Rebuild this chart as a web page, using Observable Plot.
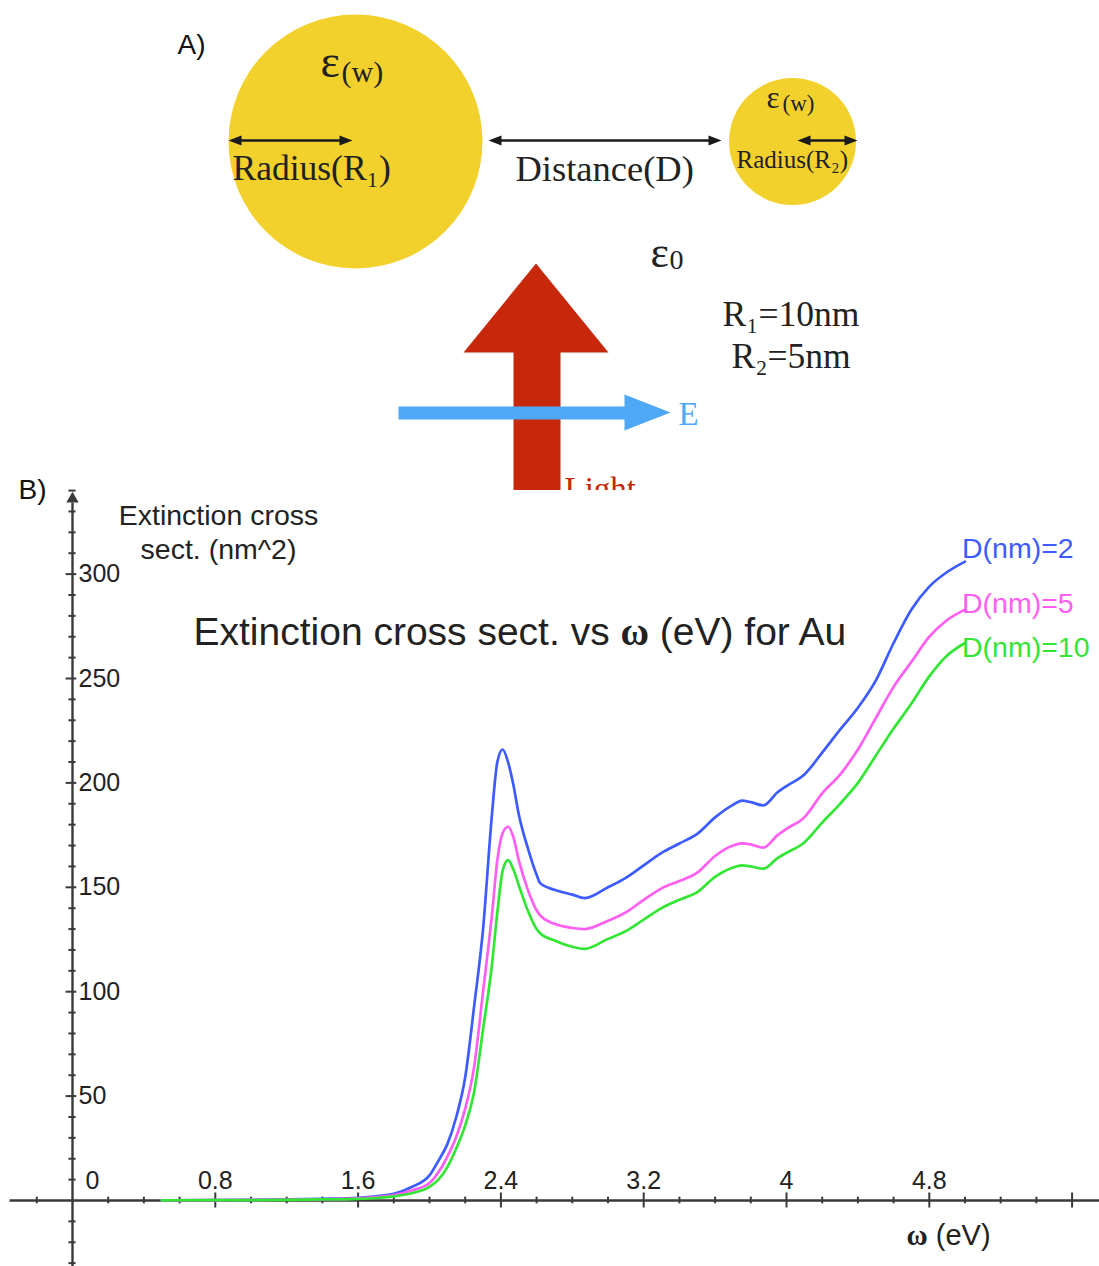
<!DOCTYPE html>
<html>
<head>
<meta charset="utf-8">
<script src="https://cdn.jsdelivr.net/npm/d3@7"></script>
<script src="https://cdn.jsdelivr.net/npm/@observablehq/plot@0.6"></script>
<style>
  body { margin: 0; background: #fff; }
  #figure { width: 1099px; }
  #figure svg { display: block; }
</style>
</head>
<body>
<div id="figure"></div>
<script>
// ================= DATA (panel B) =================
const energy = [0.5,0.8,1.0,1.2,1.4,1.6,1.7,1.8,1.9,2.0,2.05,2.1,2.15,2.2,2.25,2.3,2.35,2.38,2.41,2.44,2.47,2.5,2.55,2.6,2.62,2.7,2.8,2.87,3.0,3.1,3.2,3.3,3.4,3.5,3.6,3.7,3.75,3.8,3.87,3.95,4.0,4.1,4.2,4.3,4.4,4.5,4.6,4.7,4.8,4.9,5.0];
const sigmaD2  = [0.1,0.2,0.3,0.5,0.8,1.3,2.0,3.2,6.5,12,19,27,40,59,93,130,185,210,216,210,199,185,169,156,152,148.8,146.5,144.8,150,154.5,160.5,166.5,171,175.6,183.5,189.5,191.5,190.8,189.2,195.5,198.5,204,214.5,225.5,236,249,267,283,294,301,306];
const sigmaD5  = [0.1,0.2,0.3,0.4,0.6,1.0,1.6,2.6,4.8,8.4,13.5,21,30.5,44,64,100,137,163,176,179,174,163,149,139,136.5,132.5,130.5,130,134,138,144,149.5,153,157,165,170,171,170.5,169,175,178,183.5,195,204,216,231,246,258,270,278,283];
const sigmaD10 = [0.1,0.15,0.2,0.3,0.5,0.8,1.2,2.0,3.5,6.5,10,16,25,36,52,82,113,138,158,163,158.5,151,139,130,128,124.5,121.5,120.5,125.3,129,134.5,140,144,147.7,155,159.5,160.5,160,158.9,164,166.5,171.5,181,190,200,213,226,238,251,261,267];
const seriesNames = ["D(nm)=2", "D(nm)=5", "D(nm)=10"];
const seriesColors = ["#3d5cff", "#ff5ef2", "#33e633"];
const xTickLabels = [0.8, 1.6, 2.4, 3.2, 4, 4.8];
const xMajorTicks = [0.8, 1.6, 2.4, 3.2, 4, 4.8, 5.6];
const yTickLabels = [0, 50, 100, 150, 200, 250, 300];

// ================= DATA (panel A) =================
const sphereRadiiNm = [10, 5];   // R1 = 10 nm, R2 = 5 nm

// ---------- helpers ----------
const serif = "Liberation Serif, Times New Roman, serif";
const sans = "Liberation Sans, Arial, Helvetica, sans-serif";
const NS = "http://www.w3.org/2000/svg";

const rows = [];
[sigmaD2, sigmaD5, sigmaD10].forEach((vals, s) => {
  vals.forEach((v, i) => rows.push({energy: energy[i], sigma: v, series: seriesNames[s]}));
});

// minor ticks
const xMinor = d3.range(-0.2, 5.81, 0.2).map(v => +v.toFixed(2))
  .filter(v => Math.abs(v) > 1e-9 && !xMajorTicks.some(m => Math.abs(m - v) < 1e-6));
const yMinor = d3.range(-30, 341, 10).filter(v => v !== 0 && v % 50 !== 0);

// ================= PANEL A (schematic) =================
const spheres = [
  {cx: 355, cy: 141, R: sphereRadiiNm[0]},
  {cx: 792, cy: 141, R: sphereRadiiNm[1]}
];
const dimArrows = [
  {x1: 228, x2: 352, y: 140},
  {x1: 488, x2: 721, y: 140},
  {x1: 797, x2: 857, y: 140}
];
const heads = [];
dimArrows.forEach((a, i) => {
  const L = 13, h = 5;
  heads.push({id: "l" + i, x: a.x1, y: a.y}, {id: "l" + i, x: a.x1 + L, y: a.y - h}, {id: "l" + i, x: a.x1 + L, y: a.y + h});
  heads.push({id: "r" + i, x: a.x2, y: a.y}, {id: "r" + i, x: a.x2 - L, y: a.y - h}, {id: "r" + i, x: a.x2 - L, y: a.y + h});
});
const lightArrow = [
  {x: 513, y: 352}, {x: 463, y: 352}, {x: 535.5, y: 263}, {x: 608, y: 352},
  {x: 560, y: 352}, {x: 560, y: 520}, {x: 513, y: 520}
];
const fieldArrow = [
  {x: 398, y: 406}, {x: 624, y: 406}, {x: 624, y: 394}, {x: 670, y: 412},
  {x: 624, y: 430}, {x: 624, y: 419}, {x: 398, y: 419}
];
const labelsA = [
  {text: "A)", x: 177, y: 53, size: 28, family: sans, color: "#111"},
  {text: "ε", x: 320, y: 76, size: 46, family: serif, color: "#222"},
  {text: "(w)", x: 341, y: 81, size: 30, family: serif, color: "#222"},
  {text: "Radius(R₁)", x: 232, y: 179, size: 35.5, family: serif, color: "#222"},
  {text: "Distance(D)", x: 515, y: 180, size: 36.5, family: serif, color: "#222"},
  {text: "ε", x: 766, y: 107, size: 31, family: serif, color: "#222"},
  {text: "(w)", x: 782, y: 110, size: 23, family: serif, color: "#222"},
  {text: "Radius(R₂)", x: 736, y: 167, size: 25, family: serif, color: "#222"},
  {text: "ε", x: 650, y: 266, size: 44, family: serif, color: "#222"},
  {text: "0", x: 669, y: 268, size: 28, family: serif, color: "#222"},
  {text: "R₁=10nm", x: 722, y: 325, size: 35.5, family: serif, color: "#222"},
  {text: "R₂=5nm", x: 731, y: 367, size: 35.5, family: serif, color: "#222"},
  {text: "E", x: 678, y: 424, size: 33, family: serif, color: "#4ea8f5"},
  {text: "Light", x: 564, y: 499, size: 33, family: serif, color: "#c7280b"}
];

const plotA = Plot.plot({
  width: 1099, height: 490, margin: 0,
  style: {overflow: "hidden", background: "transparent"},
  x: {domain: [0, 1099], range: [0, 1099], axis: null},
  y: {domain: [0, 490], range: [0, 490], axis: null},
  r: {type: "linear", domain: [0, 10], range: [0, 127]},
  marks: [
    Plot.dot(spheres, {x: "cx", y: "cy", r: "R", fill: "#f3d12c", stroke: "none"}),
    Plot.link(dimArrows, {x1: d => d.x1 + 8, x2: d => d.x2 - 8, y1: "y", y2: "y", stroke: "#1a1a1a", strokeWidth: 2.6}),
    Plot.line(heads, {x: "x", y: "y", z: "id", fill: "#1a1a1a", stroke: "none"}),
    Plot.line(lightArrow, {x: "x", y: "y", fill: "#c7280b", stroke: "none", curve: "linear"}),
    Plot.line(fieldArrow, {x: "x", y: "y", fill: "#4ea8f5", stroke: "none", curve: "linear"}),
    ...labelsA.map(t => Plot.text([t], {
      x: "x", y: "y", text: "text", fontSize: t.size, fontFamily: t.family,
      fill: t.color, textAnchor: "start", lineAnchor: "bottom"
    }))
  ]
});

// ================= PANEL B (chart) =================
const pxPerEv = 178.5, x0px = 72, pxPerUnit = 2.088, y0px = 710, HB = 776;
const axisColor = "#3a3a3a", textColor = "#222";

const plotB = Plot.plot({
  width: 1099, height: HB, margin: 0,
  style: {overflow: "visible", background: "transparent", fontFamily: sans},
  x: {domain: [-x0px / pxPerEv, (1099 - x0px) / pxPerEv], axis: null},
  y: {domain: [(y0px - HB) / pxPerUnit, y0px / pxPerUnit], axis: null},
  color: {domain: seriesNames, range: seriesColors},
  marks: [
    // axes
    Plot.ruleY([0], {x1: -0.35, x2: 5.76, stroke: axisColor, strokeWidth: 2.4}),
    Plot.ruleX([0], {y1: (y0px - HB) / pxPerUnit, y2: 334, stroke: axisColor, strokeWidth: 2.4}),
    Plot.dot([0], {x: 0, y: 336, symbol: "triangle", r: 4.6, fill: axisColor, stroke: "none"}),
    Plot.ruleX(xMajorTicks, {x: d => d, y1: -3.6, y2: 3.6, stroke: axisColor, strokeWidth: 2}),
    Plot.ruleX(xMinor, {x: d => d, y1: -1.6, y2: 1.6, stroke: axisColor, strokeWidth: 2}),
    Plot.ruleY(yTickLabels.filter(v => v > 0), {y: d => d, x1: -0.036, x2: 0.024, stroke: axisColor, strokeWidth: 2}),
    Plot.ruleY(yMinor, {y: d => d, x1: -0.02, x2: 0.02, stroke: axisColor, strokeWidth: 2}),
    // tick labels
    Plot.text(xTickLabels, {x: d => d, y: 0, text: d => String(d), dy: -20, fontSize: 25, fill: textColor}),
    Plot.text(yTickLabels.filter(v => v > 0), {x: 0, y: d => d, text: d => String(d), textAnchor: "start", dx: 6, fontSize: 25, fill: textColor}),
    Plot.text([0], {x: 0, y: 0, text: d => String(d), textAnchor: "start", dx: 13, dy: -20, fontSize: 25, fill: textColor}),
    // curves
    Plot.line(rows, {x: "energy", y: "sigma", stroke: "series", z: "series", curve: "monotone-x", strokeWidth: 2.7}),
    // series labels
    ...seriesNames.map((name, i) => {
      const vals = [sigmaD2, sigmaD5, sigmaD10][i];
      return Plot.text([name], {
        x: energy[energy.length - 1], y: vals[vals.length - 1], text: d => d,
        textAnchor: "start", dx: -3, dy: [-13, -6, 4.5][i], fontSize: 28.5, fill: seriesColors[i]
      });
    }),
    // axis labels & title
    Plot.text(["Extinction cross\nsect. (nm^2)"], {x: (218 - x0px) / pxPerEv, y: 320.5, text: d => d, fontSize: 28.5, lineHeight: 1.17, fill: textColor}),
    Plot.text(["Extinction cross sect. vs ω (eV) for Au"], {x: (193 - x0px) / pxPerEv, y: 272, text: d => d, textAnchor: "start", fontSize: 39, fill: textColor}),
    Plot.text(["ω (eV)"], {x: (906 - x0px) / pxPerEv, y: -16.8, text: d => d, textAnchor: "start", fontSize: 29, fill: textColor}),
    Plot.text(["B)"], {x: (18 - x0px) / pxPerEv, y: y0px / pxPerUnit, text: d => d, textAnchor: "start", fontSize: 28, fill: "#111"})
  ]
});

// bold serif omega
function boldOmega(svg) {
  svg.querySelectorAll("text").forEach(t => {
    if (t.children.length === 0 && t.textContent.includes("ω")) {
      const parts = t.textContent.split("ω");
      t.textContent = "";
      parts.forEach((p, i) => {
        if (i > 0) {
          const s = document.createElementNS(NS, "tspan");
          s.setAttribute("font-family", serif);
          s.setAttribute("font-weight", "bold");
          s.textContent = "ω";
          t.appendChild(s);
        }
        if (p) t.appendChild(document.createTextNode(p));
      });
    }
  });
}
boldOmega(plotB);

const fig = document.getElementById("figure");
fig.appendChild(plotA);
fig.appendChild(plotB);
</script>
</body>
</html>
